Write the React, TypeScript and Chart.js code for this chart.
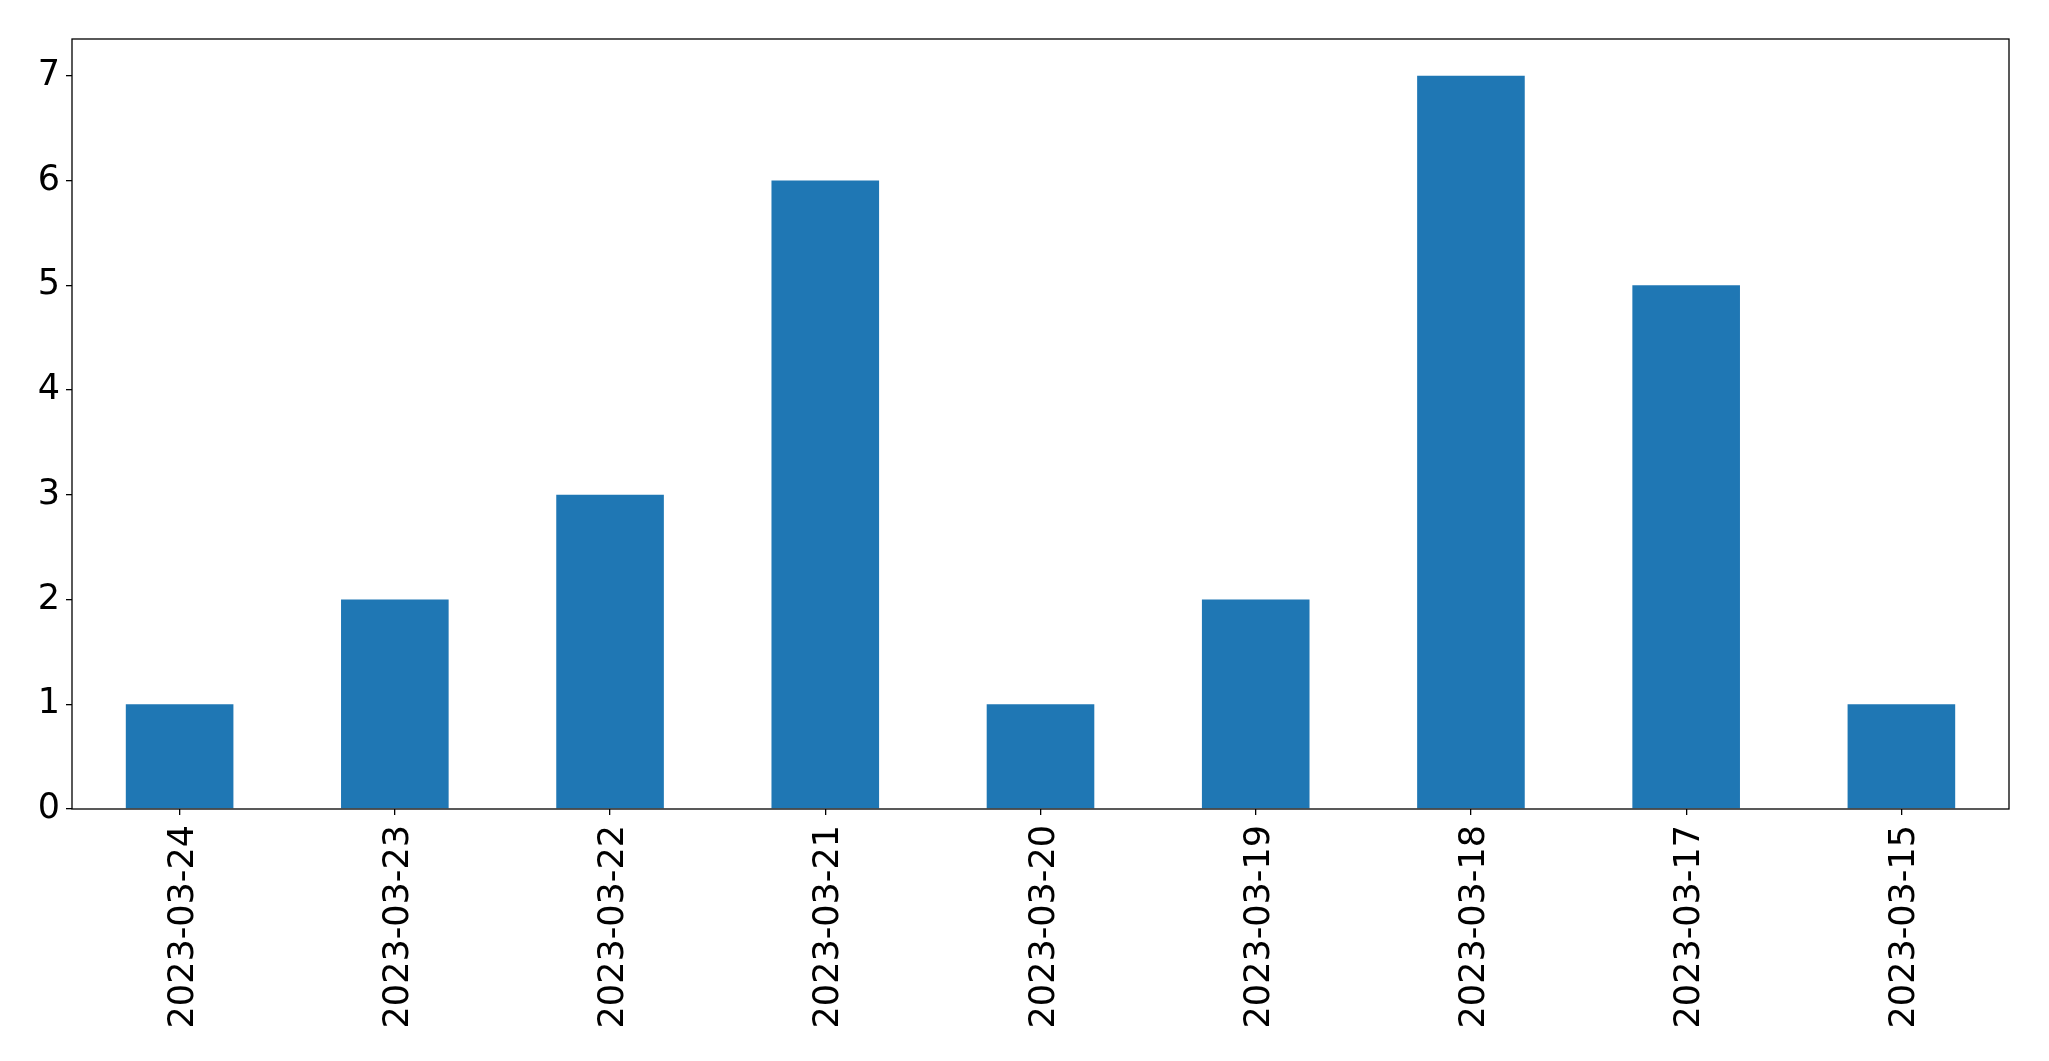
import React, { useEffect, useRef } from "react";
import { Chart, registerables } from "chart.js";

Chart.register(...registerables);

const categories = [
  "2023-03-24",
  "2023-03-23",
  "2023-03-22",
  "2023-03-21",
  "2023-03-20",
  "2023-03-19",
  "2023-03-18",
  "2023-03-17",
  "2023-03-15",
];
const counts = [1, 2, 3, 6, 1, 2, 7, 5, 1];
const yTicks = [0, 1, 2, 3, 4, 5, 6, 7];
const yMax = 7.35;

const FONT = "'DejaVu Sans', sans-serif";

const framePlugin = {
  id: "frame",
  afterDraw(chart: any) {
    const { ctx, chartArea } = chart;
    ctx.save();
    ctx.strokeStyle = "#000";
    ctx.lineWidth = 1.3;
    ctx.strokeRect(chartArea.left, chartArea.top, chartArea.right - chartArea.left, chartArea.bottom - chartArea.top);
    ctx.restore();
  },
};

export default function App() {
  const ref = useRef<HTMLCanvasElement | null>(null);
  useEffect(() => {
    if (!ref.current) return;
    const chart = new Chart(ref.current, {
      type: "bar",
      data: {
        labels: categories,
        datasets: [
          {
            data: counts,
            backgroundColor: "#1f77b4",
            categoryPercentage: 1,
            barPercentage: 0.5,
          },
        ],
      },
      plugins: [framePlugin],
      options: {
        animation: false,
        responsive: false,
        maintainAspectRatio: false,
        layout: { padding: { top: 39, right: 40, left: 0, bottom: 0 } },
        plugins: { legend: { display: false }, tooltip: { enabled: false } },
        scales: {
          x: {
            offset: true,
            grid: { drawOnChartArea: false, offset: false, tickLength: 6, color: "#000", lineWidth: 1.3 },
            border: { display: false },
            ticks: {
              minRotation: 90,
              maxRotation: 90,
              autoSkip: false,
              padding: 10,
              labelOffset: 4,
              color: "#000",
              font: { family: FONT, size: 35 },
            },
            afterFit(axis: any) {
              axis.height = 252;
            },
          },
          y: {
            min: 0,
            max: yMax,
            grid: { drawOnChartArea: false, tickLength: 6, color: "#000", lineWidth: 1.3 },
            border: { display: false },
            ticks: {
              padding: 6,
              color: "#000",
              autoSkip: false,
              font: { family: FONT, size: 35 },
            },
            afterBuildTicks(axis: any) {
              axis.ticks = yTicks.map((v) => ({ value: v }));
            },
            afterFit(axis: any) {
              axis.width = 72;
            },
          },
        },
      },
    });
    return () => chart.destroy();
  }, []);
  return (
    <div style={{ position: "absolute", left: 0, top: 0, width: 2049, height: 1061, background: "#fff" }}>
      <canvas ref={ref} width={2049} height={1061} style={{ width: 2049, height: 1061 }} />
    </div>
  );
}
